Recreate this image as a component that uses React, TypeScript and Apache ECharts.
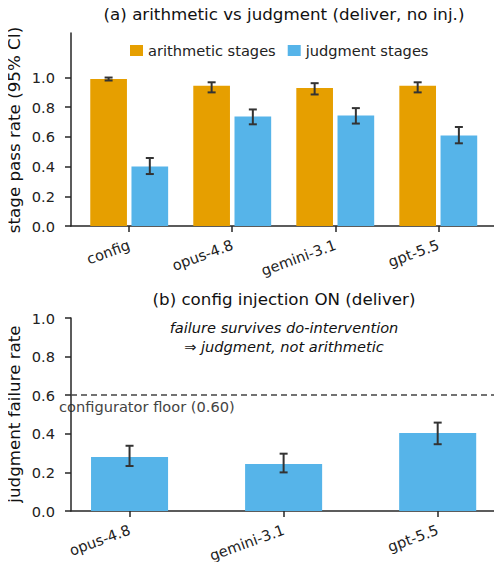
import React, { useEffect, useRef } from "react";
import * as echarts from "echarts";

const topCats = ["config", "opus-4.8", "gemini-3.1", "gpt-5.5"];
const arithVals = [0.99, 0.945, 0.93, 0.945];
const arithLo = [0.98, 0.9, 0.886, 0.9];
const arithHi = [1.0, 0.968, 0.962, 0.968];
const judgVals = [0.40, 0.738, 0.745, 0.61];
const judgLo = [0.35, 0.685, 0.69, 0.557];
const judgHi = [0.458, 0.785, 0.794, 0.667];

const botCats = ["opus-4.8", "gemini-3.1", "gpt-5.5"];
const failVals = [0.28, 0.243, 0.404];
const failLo = [0.233, 0.2, 0.346];
const failHi = [0.338, 0.297, 0.458];
const floorValue = 0.6;

const topTicks = [0, 0.2, 0.4, 0.6, 0.8, 1.0];
const botTicks = [0, 0.2, 0.4, 0.6, 0.8, 1.0];

const ORANGE = "#E69F00";
const BLUE = "#56B4E9";
const ERR = "#333333";
const AX = "#262626";
const FONT = "DejaVu Sans";

function makeRender(width: number, offset: number, color: string) {
  return (params: any, api: any) => {
    const x = api.value(0) + offset;
    const v = api.value(1);
    const lo = api.value(2);
    const hi = api.value(3);
    const p0 = api.coord([x - width / 2, 0]);
    const p1 = api.coord([x + width / 2, v]);
    const pl = api.coord([x, lo]);
    const ph = api.coord([x, hi]);
    const cap = 4;
    const ls = { stroke: ERR, lineWidth: 2 };
    return {
      type: "group",
      children: [
        {
          type: "rect",
          shape: { x: p0[0], y: p1[1], width: p1[0] - p0[0], height: p0[1] - p1[1] },
          style: { fill: color },
        },
        { type: "line", shape: { x1: pl[0], y1: pl[1], x2: ph[0], y2: ph[1] }, style: ls },
        { type: "line", shape: { x1: pl[0] - cap, y1: pl[1], x2: pl[0] + cap, y2: pl[1] }, style: ls },
        { type: "line", shape: { x1: ph[0] - cap, y1: ph[1], x2: ph[0] + cap, y2: ph[1] }, style: ls },
      ],
    };
  };
}

export default function App() {
  const ref = useRef<HTMLDivElement>(null);
  useEffect(() => {
    if (!ref.current) return;
    const chart = echarts.init(ref.current, null, { renderer: "svg" });
    const axisLine = { show: true, onZero: false, lineStyle: { color: AX, width: 1.5 } };
    const axisTick = { show: true, length: 6, lineStyle: { color: AX, width: 1.5 } };
    const lbl = { color: "#222", fontSize: 14.6, fontFamily: FONT };
    const option: any = {
      animation: false,
      textStyle: { fontFamily: FONT },
      legend: {
        top: 38,
        left: 125,
        itemWidth: 13,
        itemHeight: 11,
        itemGap: 12,
        icon: "rect",
        textStyle: { fontSize: 14.6, color: "#222", fontFamily: FONT },
        data: ["arithmetic stages", "judgment stages"],
      },
      grid: [
        { left: 71, top: 33, right: 5, height: 193, outerBoundsMode: "none", containLabel: false },
        { left: 71, top: 318, right: 5, height: 193, outerBoundsMode: "none", containLabel: false },
      ],
      xAxis: [
        {
          type: "value",
          gridIndex: 0,
          min: -0.565,
          max: 3.57,
          splitLine: { show: false },
          axisLine,
          axisTick: { ...axisTick, customValues: [0, 1, 2, 3] },
          axisLabel: {
            ...lbl,
            rotate: 20,
            margin: 18,
            customValues: [0, 1, 2, 3],
            formatter: (v: number) => topCats[Math.round(v)] ?? "",
          },
        },
        {
          type: "value",
          gridIndex: 1,
          min: -0.38,
          max: 2.385,
          splitLine: { show: false },
          axisLine,
          axisTick: { ...axisTick, customValues: [0, 1, 2] },
          axisLabel: {
            ...lbl,
            rotate: 20,
            margin: 18,
            customValues: [0, 1, 2],
            formatter: (v: number) => botCats[Math.round(v)] ?? "",
          },
        },
      ],
      yAxis: [
        {
          type: "value",
          gridIndex: 0,
          min: 0,
          max: 1.3,
          splitLine: { show: false },
          axisLine,
          axisTick: { ...axisTick, customValues: topTicks },
          axisLabel: { ...lbl, margin: 16, customValues: topTicks, formatter: (v: number) => v.toFixed(1) },
        },
        {
          type: "value",
          gridIndex: 1,
          min: 0,
          max: 1,
          splitLine: { show: false },
          axisLine,
          axisTick: { ...axisTick, customValues: botTicks },
          axisLabel: { ...lbl, margin: 16, customValues: botTicks, formatter: (v: number) => v.toFixed(1) },
        },
      ],
      series: [
        {
          type: "custom",
          name: "arithmetic stages",
          xAxisIndex: 0,
          yAxisIndex: 0,
          itemStyle: { color: ORANGE },
          renderItem: makeRender(0.356, -0.2, ORANGE),
          encode: { x: 0, y: 1 },
          data: topCats.map((_, i) => [i, arithVals[i], arithLo[i], arithHi[i]]),
        },
        {
          type: "custom",
          name: "judgment stages",
          xAxisIndex: 0,
          yAxisIndex: 0,
          itemStyle: { color: BLUE },
          renderItem: makeRender(0.356, 0.2, BLUE),
          encode: { x: 0, y: 1 },
          data: topCats.map((_, i) => [i, judgVals[i], judgLo[i], judgHi[i]]),
        },
        {
          type: "custom",
          name: "failure",
          xAxisIndex: 1,
          yAxisIndex: 1,
          itemStyle: { color: BLUE },
          renderItem: makeRender(0.5, 0, BLUE),
          encode: { x: 0, y: 1 },
          data: botCats.map((_, i) => [i, failVals[i], failLo[i], failHi[i]]),
          markLine: {
            silent: true,
            symbol: "none",
            label: { show: false },
            lineStyle: { color: "#444", type: [6, 4], width: 1.6 },
            data: [{ yAxis: floorValue }],
          },
        },
      ],
      graphic: [
        {
          type: "text",
          x: 284,
          y: 5,
          style: {
            text: "(a) arithmetic vs judgment (deliver, no inj.)",
            fill: "#111",
            fontSize: 16.7,
            fontFamily: FONT,
            align: "center",
          },
        },
        {
          type: "text",
          x: 284,
          y: 290,
          style: {
            text: "(b) config injection ON (deliver)",
            fill: "#111",
            fontSize: 16.7,
            fontFamily: FONT,
            align: "center",
          },
        },
        {
          type: "text",
          x: 14,
          y: 130,
          rotation: Math.PI / 2,
          style: {
            text: "stage pass rate (95% CI)",
            fill: "#111",
            fontSize: 16.7,
            fontFamily: FONT,
            align: "center",
            verticalAlign: "middle",
          },
        },
        {
          type: "text",
          x: 14,
          y: 414,
          rotation: Math.PI / 2,
          style: {
            text: "judgment failure rate",
            fill: "#111",
            fontSize: 16.7,
            fontFamily: FONT,
            align: "center",
            verticalAlign: "middle",
          },
        },
        {
          type: "text",
          left: 59,
          top: 399,
          style: { text: "configurator floor (0.60)", fill: "#444", fontSize: 14.6, fontFamily: FONT },
        },
        {
          type: "text",
          x: 284,
          y: 318,
          style: {
            text: "failure survives do-intervention\n⇒ judgment, not arithmetic",
            fill: "#111",
            fontSize: 14.6,
            fontStyle: "italic",
            fontFamily: FONT,
            align: "center",
            lineHeight: 19,
          },
        },
      ],
    };
    chart.setOption(option);
    return () => chart.dispose();
  }, []);
  return <div ref={ref} style={{ width: 502, height: 570, margin: -8 }} />;
}
